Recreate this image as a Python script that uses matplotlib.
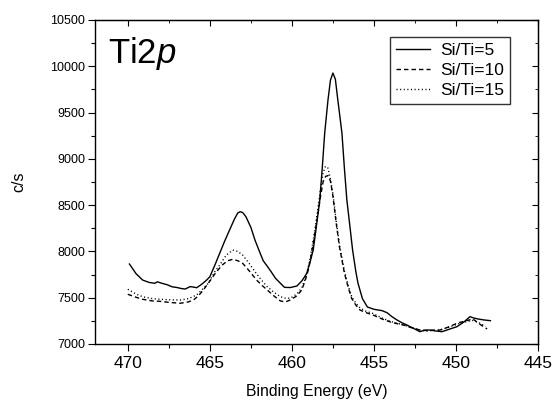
import matplotlib
matplotlib.use("Agg")
import matplotlib.pyplot as plt
from matplotlib.ticker import MultipleLocator

plt.rcParams['font.family'] = ['Liberation Sans', 'DejaVu Sans']
plt.rcParams['mathtext.fontset'] = 'custom'
plt.rcParams['mathtext.rm'] = 'Liberation Sans'
plt.rcParams['mathtext.it'] = 'Liberation Sans:italic'

# Si/Ti=5 (solid)
e5 = [469.9, 469.5, 469.1, 468.7, 468.35, 468.2, 468.0, 467.6, 467.3, 467.0, 466.7, 466.5,
      466.2, 466.0, 465.8, 465.5, 465.2, 465.0, 464.7, 464.4, 464.1, 463.8, 463.5, 463.3,
      463.15, 463.0, 462.8, 462.5, 462.25, 462.0, 461.75, 461.5, 461.3, 461.0, 460.7, 460.45,
      460.1, 459.7, 459.4, 459.1, 458.9, 458.7, 458.5, 458.3, 458.15, 458.0, 457.8, 457.65,
      457.5, 457.35, 457.2, 456.95, 456.8, 456.65, 456.45, 456.3, 456.1, 455.97, 455.7, 455.4,
      455.0, 454.5, 454.2, 453.9, 453.6, 453.3, 452.99, 452.6, 452.2, 451.9, 451.6, 451.2,
      450.85, 450.4, 449.94, 449.5, 449.15, 448.9, 448.65, 448.3, 447.9]
v5 = [7864, 7760, 7691, 7665, 7656, 7672, 7660, 7640, 7618, 7610, 7598, 7594,
      7620, 7615, 7608, 7645, 7690, 7727, 7850, 7980, 8110, 8231, 8350, 8415,
      8429, 8420, 8375, 8260, 8123, 8010, 7900, 7840, 7790, 7710, 7656, 7612,
      7610, 7626, 7680, 7760, 7880, 8015, 8280, 8556, 8900, 9279, 9636, 9850,
      9927, 9860, 9636, 9279, 8900, 8556, 8250, 8015, 7780, 7656, 7490, 7400,
      7375, 7360, 7338, 7295, 7260, 7230, 7205, 7170, 7133, 7150, 7151, 7140,
      7133, 7160, 7187, 7240, 7295, 7280, 7270, 7260, 7252]

# Si/Ti=10 (dashed)
e10 = [470.0, 469.5, 469.1, 468.5, 468.05, 467.5, 466.8, 466.3, 466.0, 465.7, 465.4, 465.0,
       464.6, 464.2, 463.9, 463.6, 463.3, 463.0, 462.6, 462.15, 461.8, 461.5, 461.1, 460.7,
       460.4, 460.1, 459.7, 459.4, 459.2, 459.0, 458.85, 458.7, 458.55, 458.4, 458.25, 458.1,
       457.95, 457.8, 457.65, 457.5, 457.3, 457.1, 456.8, 456.55, 456.35, 456.1, 455.85, 455.5,
       455.06, 454.5, 454.0, 453.6, 453.2, 452.7, 452.2, 451.8, 451.4, 450.98, 450.5, 449.9,
       449.4, 448.96, 448.6, 448.1]
v10 = [7537, 7505, 7483, 7465, 7461, 7450, 7440, 7455, 7475, 7520, 7583, 7680,
       7781, 7860, 7900, 7915, 7900, 7872, 7790, 7691, 7630, 7583, 7520, 7465,
       7455, 7475, 7520, 7583, 7680, 7800, 7930, 8090, 8250, 8415, 8600, 8750,
       8810, 8820, 8760, 8600, 8307, 8048, 7767, 7600, 7490, 7420, 7367, 7340,
       7313, 7270, 7238, 7220, 7205, 7175, 7151, 7145, 7150, 7151, 7180, 7227,
       7250, 7270, 7220, 7162]

# Si/Ti=15 (dotted)
e15 = [470.0, 469.5, 469.1, 468.5, 468.05, 467.5, 466.8, 466.3, 465.8, 465.4, 465.1, 464.7,
       464.4, 464.0, 463.6, 463.3, 463.0, 462.6, 462.25, 461.9, 461.5, 461.1, 460.7, 460.4,
       460.1, 459.7, 459.4, 459.2, 459.0, 458.85, 458.7, 458.55, 458.4, 458.25, 458.1, 457.95,
       457.8, 457.65, 457.5, 457.3, 457.1, 456.8, 456.55, 456.35, 456.1, 455.85, 455.5, 455.06,
       454.5, 454.0, 453.6, 453.2, 452.7, 452.2, 451.8, 451.4, 450.98, 450.5, 449.9, 449.4,
       448.96, 448.6, 448.2]
v15 = [7591, 7540, 7511, 7490, 7483, 7478, 7475, 7490, 7530, 7600, 7656, 7780,
       7853, 7960, 8015, 8000, 7961, 7870, 7781, 7700, 7619, 7560, 7511, 7495,
       7494, 7540, 7605, 7700, 7830, 7960, 8120, 8300, 8480, 8680, 8850, 8920,
       8900, 8780, 8620, 8330, 8070, 7790, 7620, 7510, 7440, 7390, 7355, 7330,
       7280, 7245, 7225, 7208, 7178, 7150, 7140, 7145, 7150, 7178, 7215, 7240,
       7255, 7230, 7190]

labels = ["Si/Ti=5", "Si/Ti=10", "Si/Ti=15"]
x_ticks = [470, 465, 460, 455, 450, 445]
y_ticks = [7000, 7500, 8000, 8500, 9000, 9500, 10000, 10500]

fig = plt.figure(figsize=(5.55, 4.01), dpi=100)
ax = fig.add_axes([95/555, 1-344/401, 443/555, 324/401])

ax.plot(e5, v5, color='black', lw=1.0, ls='-', label=labels[0])
ax.plot(e10, v10, color='black', lw=1.0, ls=(0, (3.2, 2.2)), label=labels[1])
ax.plot(e15, v15, color='black', lw=1.0, ls=(0, (0.8, 1.8)), label=labels[2])

ax.set_xlim(472, 445)
ax.set_ylim(7000, 10500)
ax.set_xticks(x_ticks)
ax.set_yticks(y_ticks)
ax.xaxis.set_minor_locator(MultipleLocator(2.5))
ax.yaxis.set_minor_locator(MultipleLocator(250))

ax.tick_params(axis='both', which='both', direction='out', top=False, right=False, width=0.8)
ax.tick_params(axis='both', which='major', length=5)
ax.tick_params(axis='both', which='minor', length=3)
ax.tick_params(axis='x', labelsize=12.5, pad=4)
ax.tick_params(axis='y', labelsize=9, pad=2)

# inward ticks on top and right, no labels
sec_x = ax.secondary_xaxis('top')
sec_x.set_xticks(x_ticks)
sec_x.xaxis.set_minor_locator(MultipleLocator(2.5))
sec_x.tick_params(which='both', direction='in', labeltop=False)
sec_x.tick_params(which='major', length=4)
sec_x.tick_params(which='minor', length=2)
sec_x.set_xticklabels([])
sec_y = ax.secondary_yaxis('right')
sec_y.set_yticks(y_ticks)
sec_y.yaxis.set_minor_locator(MultipleLocator(250))
sec_y.tick_params(which='both', direction='in', labelright=False)
sec_y.tick_params(which='major', length=4)
sec_y.tick_params(which='minor', length=2)
sec_y.set_yticklabels([])

for s in ax.spines.values():
    s.set_linewidth(1.0)

ax.set_xlabel("Binding Energy (eV)", fontsize=11.3)
ax.xaxis.set_label_coords(0.5, -0.123)
ax.set_ylabel("c/s", fontsize=11.5)
ax.yaxis.set_label_coords(-0.155, 0.5)

ax.text(0.029, 0.867, r"Ti2$\mathit{p}$", transform=ax.transAxes,
        fontsize=25, va='baseline', ha='left')

leg = ax.legend(loc='upper right', bbox_to_anchor=((510-95)/443, (344-37)/324),
                borderaxespad=0, fontsize=12.5, frameon=True, fancybox=False,
                edgecolor='black', handlelength=2.0, handletextpad=0.55,
                labelspacing=0.28, borderpad=0.35)
leg.get_frame().set_linewidth(1.0)

fig.savefig("out.png", dpi=100)
